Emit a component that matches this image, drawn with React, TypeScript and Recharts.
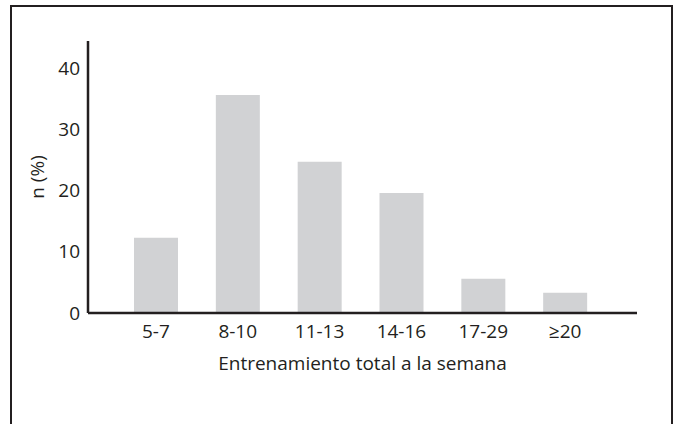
import { Bar, BarChart, XAxis, YAxis } from 'recharts'

const categories = ['5-7', '8-10', '11-13', '14-16', '17-29', '≥20']
const percentages = [12.3, 35.6, 24.7, 19.6, 5.6, 3.3]
const yTicks = [0, 10, 20, 30, 40]

const chartData = categories.map((name, i) => ({ name, value: percentages[i] }))

const ink = '#231f20'
const font = '"Open Sans", sans-serif'

export default function App() {
  return (
    <div style={{ position: 'absolute', left: 0, top: 0, width: 679, height: 424, overflow: 'hidden', background: '#fff' }}>
      {/* outer frame, bottom edge falls outside the picture */}
      <div
        style={{
          position: 'absolute',
          left: 10,
          top: 5,
          width: 663,
          height: 440,
          boxSizing: 'border-box',
          border: `2.5px solid ${ink}`,
        }}
      />
      <div style={{ position: 'absolute', left: 0, top: 0 }}>
        <BarChart
          width={679}
          height={424}
          data={chartData}
          margin={{ top: 41, right: 42, bottom: 51, left: 0 }}
        >
          <XAxis
            dataKey='name'
            height={60}
            padding={{ left: 27, right: 31 }}
            tickLine={false}
            tickSize={0}
            tickMargin={12}
            axisLine={{ stroke: ink, strokeWidth: 2.5 }}
            tick={{ fill: ink, fontSize: 19, fontFamily: font }}
            label={{
              value: 'Entrenamiento total a la semana',
              position: 'insideBottom',
              offset: 3,
              fill: ink,
              fontSize: 19,
              fontFamily: font,
            }}
          />
          <YAxis
            width={88}
            domain={[0, 44.4]}
            ticks={yTicks}
            tickLine={false}
            tickSize={0}
            tickMargin={8}
            axisLine={{ stroke: ink, strokeWidth: 2.5 }}
            tick={{ fill: ink, fontSize: 19, fontFamily: font }}
            label={{
              value: 'n (%)',
              angle: -90,
              position: 'center',
              dx: -7,
              fill: ink,
              fontSize: 19,
              fontFamily: font,
            }}
          />
          <Bar dataKey='value' fill='#d1d2d4' barSize={44} isAnimationActive={false} />
        </BarChart>
      </div>
    </div>
  )
}
